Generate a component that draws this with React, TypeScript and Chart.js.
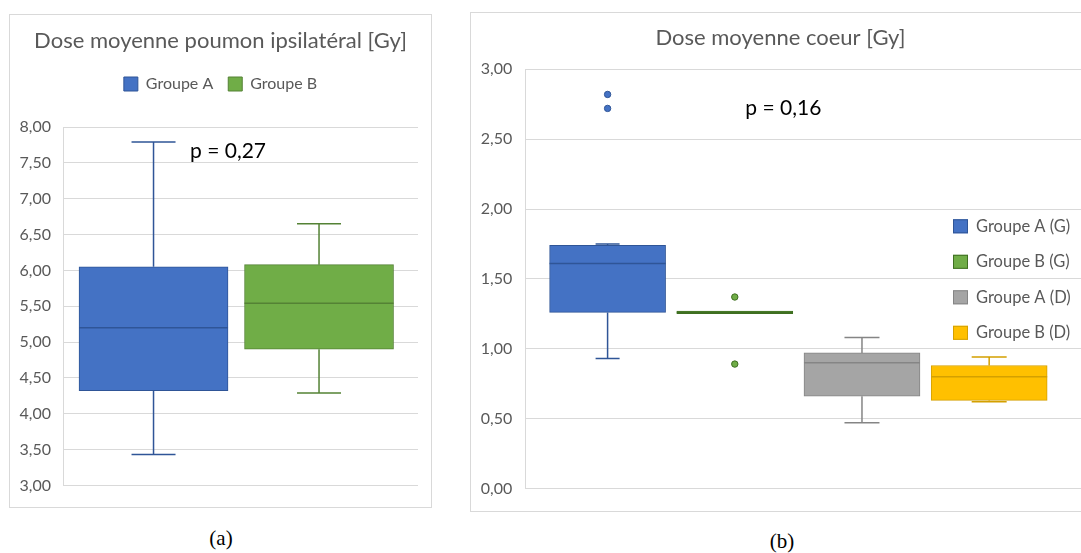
import React, { useEffect, useRef } from 'react';
import { Chart, registerables } from 'chart.js';

Chart.register(...registerables);

// ---------- Data: chart (a) ----------
const leftTitle = 'Dose moyenne poumon ipsilatéral [Gy]';
const leftGroups = ['Groupe A', 'Groupe B'];
const leftMin = [3.43, 4.29];
const leftQ1 = [4.32, 4.9];
const leftMedian = [5.2, 5.54];
const leftQ3 = [6.05, 6.08];
const leftMax = [7.79, 6.65];
const leftPValue = 'p = 0,27';
const leftYRange = [3, 8];
const leftYStep = 0.5;

// ---------- Data: chart (b) ----------
const rightTitle = 'Dose moyenne coeur [Gy]';
const rightGroups = ['Groupe A (G)', 'Groupe B (G)', 'Groupe A (D)', 'Groupe B (D)'];
const rightMin = [0.93, 1.25, 0.47, 0.62];
const rightQ1 = [1.26, 1.25, 0.66, 0.63];
const rightMedian = [1.61, 1.26, 0.9, 0.8];
const rightQ3 = [1.74, 1.27, 0.97, 0.88];
const rightMax = [1.75, 1.27, 1.08, 0.94];
const rightOutliers = [[2.72, 2.82], [0.89, 1.37], [], []];
const rightPValue = 'p = 0,16';
const rightYRange = [0, 3];
const rightYStep = 0.5;

const captions = ['(a)', '(b)'];

// ---------- Styles ----------
const leftFill = ['#4472C4', '#70AD47'];
const leftEdge = ['#2F5597', '#548235'];
const rightFill = ['#4472C4', '#70AD47', '#A5A5A5', '#FFC000'];
const rightEdge = ['#2F5597', '#3F6F22', '#858585', '#D4A000'];
const rightCaps = [24, 0, 35, 35];
const GRID = '#D9D9D9';
const TEXT = '#595959';
const FONT = 'Lato';

const fmt = (v: number) => v.toFixed(2).replace('.', ',');

const boxPlugin = {
  id: 'boxWhiskers',
  afterDatasetsDraw(chart: any, _args: any, opts: any) {
    const { ctx, scales } = chart;
    const y = scales.y;
    opts.stats.forEach((s: any, i: number) => {
      const meta = chart.getDatasetMeta(i);
      const el = meta.data[0];
      if (!el) return;
      const { x, width } = el.getProps(['x', 'width'], true);
      const cap = opts.caps[i];
      ctx.save();
      ctx.strokeStyle = opts.colors[i];
      ctx.lineWidth = 1.5;
      ctx.beginPath();
      if (s.max > s.q3) {
        ctx.moveTo(x, y.getPixelForValue(s.q3));
        ctx.lineTo(x, y.getPixelForValue(s.max));
        ctx.moveTo(x - cap / 2, y.getPixelForValue(s.max));
        ctx.lineTo(x + cap / 2, y.getPixelForValue(s.max));
      }
      if (s.min < s.q1) {
        ctx.moveTo(x, y.getPixelForValue(s.q1));
        ctx.lineTo(x, y.getPixelForValue(s.min));
        ctx.moveTo(x - cap / 2, y.getPixelForValue(s.min));
        ctx.lineTo(x + cap / 2, y.getPixelForValue(s.min));
      }
      ctx.moveTo(x - width / 2, y.getPixelForValue(s.med));
      ctx.lineTo(x + width / 2, y.getPixelForValue(s.med));
      ctx.stroke();
      ctx.restore();
    });
  },
};

const textPlugin = {
  id: 'pText',
  afterDraw(chart: any, _args: any, opts: any) {
    const { ctx, chartArea } = chart;
    ctx.save();
    ctx.font = `21px ${FONT}`;
    ctx.fillStyle = '#000000';
    ctx.textAlign = 'left';
    ctx.textBaseline = 'alphabetic';
    ctx.fillText(opts.text, chartArea.left + opts.dx, chartArea.top + opts.dy);
    ctx.restore();
  },
};

const sideLegendPlugin = {
  id: 'sideLegend',
  afterDraw(chart: any, _args: any, opts: any) {
    if (!opts.enabled) return;
    const { ctx, chartArea } = chart;
    ctx.save();
    ctx.font = `16.5px ${FONT}`;
    ctx.textBaseline = 'middle';
    ctx.textAlign = 'left';
    opts.labels.forEach((label: string, i: number) => {
      const cy = chartArea.top + 157 + i * 35.5;
      const bx = chartArea.right - 135;
      ctx.fillStyle = opts.fills[i];
      ctx.fillRect(bx, cy - 7, 15, 14);
      ctx.strokeStyle = opts.edges[i];
      ctx.lineWidth = 1;
      ctx.strokeRect(bx + 0.5, cy - 6.5, 14, 13);
      ctx.fillStyle = TEXT;
      ctx.fillText(label, bx + 23, cy);
    });
    ctx.restore();
  },
};

const legendGapPlugin = {
  id: 'legendGap',
  beforeInit(chart: any) {
    const gap = chart.options.plugins.legendGap?.gap || 0;
    if (!chart.legend || !gap) return;
    const orig = chart.legend.fit;
    chart.legend.fit = function fit() {
      orig.bind(chart.legend)();
      this.height += gap;
    };
  },
};

function makeLeftConfig(): any {
  const bars = leftGroups.map((g, i) => ({
    type: 'bar',
    label: g,
    data: [{ x: i + 1, y: [leftQ1[i], leftQ3[i]] }],
    backgroundColor: leftFill[i],
    borderColor: leftEdge[i],
    borderWidth: 1,
    borderSkipped: false,
    grouped: false,
    barThickness: 149,
  }));
  return {
    type: 'bar',
    data: { datasets: bars },
    plugins: [boxPlugin, textPlugin, legendGapPlugin],
    options: {
      animation: false,
      responsive: false,
      events: [],
      layout: { padding: { left: 0, right: 0, top: 0, bottom: 20 } },
      scales: {
        x: { type: 'linear', offset: false, min: 0.453, max: 2.598, display: false },
        y: {
          min: leftYRange[0],
          max: leftYRange[1],
          afterFit: (s: any) => { s.width = 53; },
          ticks: { stepSize: leftYStep, callback: (v: any) => fmt(v), color: TEXT, font: { family: FONT, size: 16 }, padding: 12 },
          grid: { color: GRID, drawTicks: false },
          border: { display: true, color: GRID },
        },
        spacer: {
          type: 'linear',
          position: 'right',
          display: true,
          afterFit: (s: any) => { s.width = 13; },
          ticks: { display: false },
          grid: { display: false },
          border: { display: false },
        },
      },
      plugins: {
        title: { display: true, text: leftTitle, color: TEXT, font: { family: FONT, size: 22, weight: 'normal' }, padding: { top: 12.8, bottom: 6.8 } },
        legend: {
          display: true,
          position: 'top',
          labels: { boxWidth: 14, boxHeight: 14, padding: 15, color: TEXT, font: { family: FONT, size: 16 } },
        },
        legendGap: { gap: 25 },
        tooltip: { enabled: false },
        boxWhiskers: {
          stats: leftGroups.map((_, i) => ({ min: leftMin[i], q1: leftQ1[i], med: leftMedian[i], q3: leftQ3[i], max: leftMax[i] })),
          colors: leftEdge,
          caps: [44, 44],
        },
        pText: { text: leftPValue, dx: 127, dy: 31 },
      },
    },
  };
}

function makeRightConfig(): any {
  const bars: any[] = rightGroups.map((g, i) => ({
    type: 'bar',
    label: g,
    data: [{ x: i + 1, y: [rightQ1[i], rightQ3[i]] }],
    backgroundColor: rightFill[i],
    borderColor: rightEdge[i],
    borderWidth: 1,
    borderSkipped: false,
    grouped: false,
    barThickness: 116,
  }));
  const outs: any[] = [];
  rightOutliers.forEach((vals, i) => {
    if (!vals.length) return;
    outs.push({
      type: 'scatter',
      label: rightGroups[i] + ' outliers',
      data: vals.map((v) => ({ x: i + 1, y: v })),
      pointRadius: 3.2,
      pointBackgroundColor: rightFill[i],
      pointBorderColor: rightEdge[i],
      pointBorderWidth: 1,
      showLine: false,
    });
  });
  return {
    type: 'bar',
    data: { datasets: [...bars, ...outs] },
    plugins: [boxPlugin, textPlugin, sideLegendPlugin],
    options: {
      animation: false,
      responsive: false,
      events: [],
      layout: { padding: { left: 0, right: 3, top: 0, bottom: 21.7 } },
      scales: {
        x: { type: 'linear', offset: false, min: 0.353, max: 4.777, display: false },
        y: {
          min: rightYRange[0],
          max: rightYRange[1],
          afterFit: (s: any) => { s.width = 54.3; },
          ticks: { stepSize: rightYStep, callback: (v: any) => fmt(v), color: TEXT, font: { family: FONT, size: 16 }, padding: 13 },
          grid: { color: GRID, drawTicks: false },
          border: { display: true, color: GRID },
        },
      },
      plugins: {
        title: { display: true, text: rightTitle, color: TEXT, font: { family: FONT, size: 22, weight: 'normal' }, padding: { top: 11.8, bottom: 18.1 } },
        legend: { display: false },
        tooltip: { enabled: false },
        boxWhiskers: {
          stats: rightGroups.map((_, i) => ({ min: rightMin[i], q1: rightQ1[i], med: rightMedian[i], q3: rightQ3[i], max: rightMax[i] })),
          colors: rightEdge,
          caps: rightCaps,
        },
        pText: { text: rightPValue, dx: 220, dy: 45.7 },
        sideLegend: { enabled: true, labels: rightGroups, fills: rightFill, edges: rightEdge },
      },
    },
  };
}

function ChartBox(props: { config: () => any; width: number; height: number; style: React.CSSProperties }) {
  const ref = useRef<HTMLCanvasElement>(null);
  useEffect(() => {
    const chart = new Chart(ref.current as HTMLCanvasElement, props.config());
    return () => chart.destroy();
  }, []);
  return (
    <div style={{ position: 'absolute', border: `1px solid ${GRID}`, background: '#fff', ...props.style }}>
      <canvas ref={ref} width={props.width} height={props.height} style={{ display: 'block' }} />
    </div>
  );
}

export default function App() {
  const capStyle: React.CSSProperties = {
    position: 'absolute',
    width: 80,
    height: 24,
    lineHeight: '24px',
    textAlign: 'center',
    fontFamily: '"Liberation Serif", serif',
    fontSize: 21,
    color: '#000',
  };
  return (
    <div style={{ position: 'fixed', left: 0, top: 0, width: 1081, height: 553, overflow: 'hidden', background: '#fff' }}>
      <ChartBox config={makeLeftConfig} width={421} height={492} style={{ left: 9, top: 14 }} />
      <ChartBox config={makeRightConfig} width={622} height={498} style={{ left: 470, top: 12 }} />
      <div style={{ ...capStyle, left: 221 - 40, top: 526 }}>{captions[0]}</div>
      <div style={{ ...capStyle, left: 782 - 40, top: 529 }}>{captions[1]}</div>
    </div>
  );
}
